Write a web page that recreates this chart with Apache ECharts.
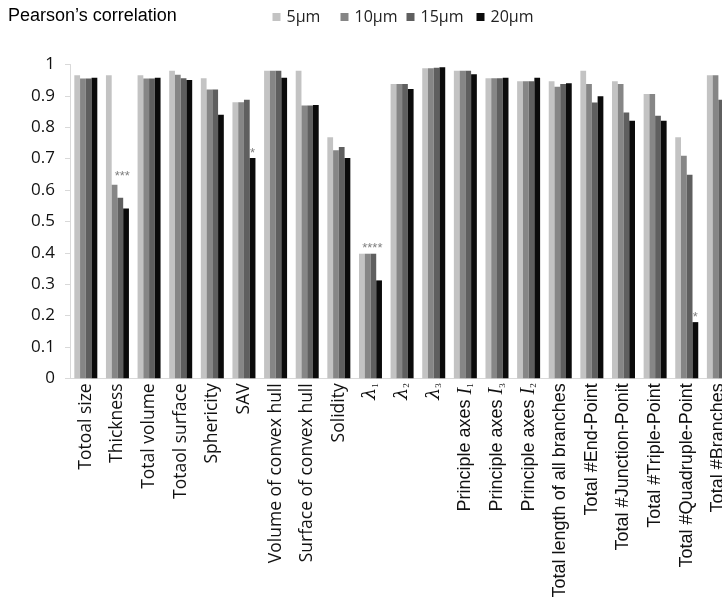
<!DOCTYPE html>
<html>
<head>
<meta charset="utf-8">
<script src="https://cdn.jsdelivr.net/npm/echarts@6/dist/echarts.min.js"></script>
<style>
  html, body { margin: 0; padding: 0; background: #fff; overflow: hidden; }
  #chart { width: 760px; height: 605px; }
</style>
</head>
<body>
<div id="chart"></div>
<script>
// Shape descriptors and their Pearson correlation per voxel size
const categories = [
  'Totoal size', 'Thickness', 'Total volume', 'Totaol surface', 'Sphericity', 'SAV',
  'Volume of convex hull', 'Surface of convex hull', 'Solidity',
  'λ1', 'λ2', 'λ3',
  'Principle axes I1', 'Principle axes I3', 'Principle axes I2',
  'Total length of all branches', 'Total #End-Point', 'Total #Junction-Ponit',
  'Total #Triple-Point', 'Total #Quadruple-Point', 'Total #Branches'
];
const seriesNames = ['5µm', '10µm', '15µm', '20µm'];
const values5 = [0.966, 0.966, 0.966, 0.980, 0.956, 0.880, 0.980, 0.980, 0.768, 0.397, 0.938, 0.988, 0.980, 0.956, 0.947, 0.947, 0.980, 0.947, 0.906, 0.768, 0.966];
const values10 = [0.955, 0.617, 0.955, 0.967, 0.920, 0.880, 0.980, 0.869, 0.727, 0.397, 0.938, 0.988, 0.980, 0.956, 0.947, 0.929, 0.938, 0.938, 0.906, 0.709, 0.966];
const values15 = [0.955, 0.575, 0.955, 0.956, 0.920, 0.888, 0.980, 0.869, 0.737, 0.397, 0.938, 0.990, 0.980, 0.956, 0.947, 0.938, 0.879, 0.847, 0.837, 0.649, 0.888];
const values20 = [0.958, 0.541, 0.958, 0.951, 0.840, 0.702, 0.958, 0.871, 0.702, 0.312, 0.922, 0.991, 0.969, 0.958, 0.958, 0.940, 0.899, 0.821, 0.821, 0.179, 0.870];
const yTicks = [0, 0.1, 0.2, 0.3, 0.4, 0.5, 0.6, 0.7, 0.8, 0.9, 1];

// Significance marks: [series index, category index, text]
const significance = [
  [2, 1, '***'],
  [3, 5, '*'],
  [2, 9, '****'],
  [3, 19, '*']
];

const allValues = [values5, values10, values15, values20];
const colors = ['#c3c3c3', '#868686', '#5f5f5f', '#0b0b0b'];

// nudges for the significance text, keyed by "series-category"
const markOffset = { '2-1': [2, -10], '3-5': [0, 7], '2-9': [-1, 6], '3-19': [0, 7] };
// left edge of each legend entry
const legendLeft = [272.5, 340.5, 406.5, 476.5];

function richLabel(name, idx) {
  let m = name.match(/^λ(\d)$/);
  if (m) return '{lam|λ}{sub|' + m[1] + '}';
  m = name.match(/^Principle axes I(\d)$/);
  if (m) return '{ar|Principle axes }{it|I}{sub|' + m[1] + '}';
  return (idx < 9 ? '{hu|' : '{ar|') + name + '}';
}

const series = allValues.map((vals, s) => ({
  name: seriesNames[s],
  type: 'bar',
  barGap: '0%',
  barCategoryGap: '27.3%',
  itemStyle: { color: colors[s] },
  animation: false,
  data: vals.map((v, i) => {
    const mark = significance.find(d => d[0] === s && d[1] === i);
    if (!mark) return v;
    return {
      value: v,
      label: {
        show: true,
        position: 'top',
        formatter: mark[2],
        offset: markOffset[s + '-' + i],
        color: '#7f7f7f',
        fontFamily: 'Liberation Sans',
        fontSize: 13
      }
    };
  })
}));

const legends = seriesNames.map((name, k) => ({
  data: [name],
  left: legendLeft[k], top: 9, padding: 0,
  itemWidth: 8, itemHeight: 8,
  icon: 'rect',
  selectedMode: false,
  textStyle: { fontFamily: 'Open Sans', fontSize: 16, color: '#222', padding: [0, 0, 0, 1] }
}));

const chart = echarts.init(document.getElementById('chart'), null, { renderer: 'canvas' });
chart.setOption({
  animation: false,
  title: {
    text: 'Pearson’s correlation',
    left: 8, top: 7, padding: 0,
    textStyle: { fontFamily: 'Liberation Sans', fontSize: 18, fontWeight: 'normal', color: '#000' }
  },
  legend: legends,
  grid: { left: 70, top: 64.5, width: 664.2, height: 313.8 },
  xAxis: {
    type: 'category',
    data: categories,
    axisLine: { show: true, lineStyle: { color: '#d9d9d9', width: 1 } },
    axisTick: { show: false },
    axisLabel: {
      interval: 0,
      rotate: 90,
      margin: 5,
      color: '#111',
      formatter: richLabel,
      rich: {
        hu: { fontFamily: 'Open Sans', fontSize: 17.5, color: '#111' },
        ar: { fontFamily: 'Liberation Sans', fontSize: 18, color: '#111' },
        lam: { fontFamily: 'DejaVu Serif', fontStyle: 'italic', fontSize: 19, color: '#111' },
        it: { fontFamily: 'Liberation Serif', fontStyle: 'italic', fontSize: 20, color: '#111' },
        sub: { fontFamily: 'Liberation Serif', fontSize: 9, color: '#111', verticalAlign: 'bottom' }
      }
    }
  },
  yAxis: {
    type: 'value',
    min: 0, max: 1, interval: 0.1,
    axisLine: { show: true, lineStyle: { color: '#d9d9d9', width: 1 } },
    axisTick: { show: true, length: 5, lineStyle: { color: '#d9d9d9' } },
    splitLine: { show: false },
    axisLabel: {
      margin: 15,
      padding: [7, 0, 0, 0],
      fontFamily: 'Open Sans', fontSize: 17, color: '#111',
      formatter: v => {
        const t = yTicks.find(x => Math.abs(x - v) < 1e-9);
        return t === undefined ? '' : String(t);
      }
    }
  },
  series: series
});
</script>
</body>
</html>
